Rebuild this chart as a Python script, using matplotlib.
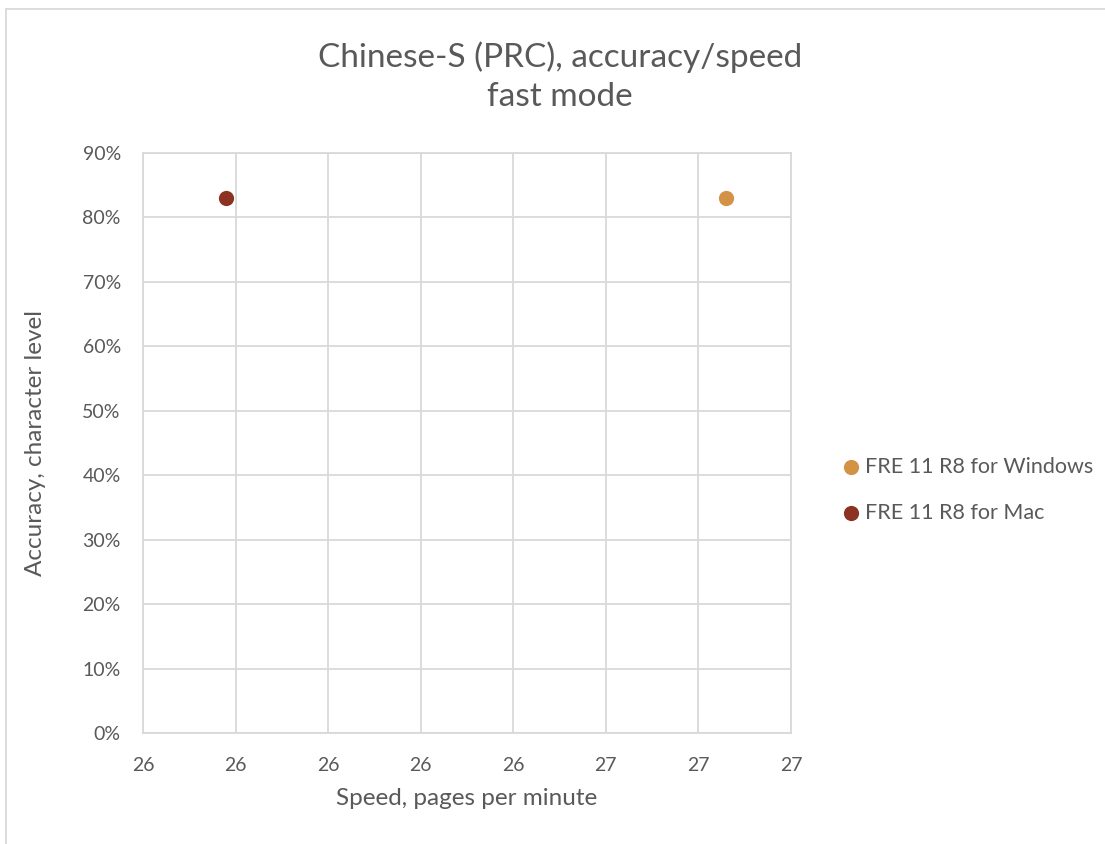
import matplotlib.pyplot as plt
from matplotlib.ticker import FuncFormatter, MultipleLocator
import numpy as np

plt.rcParams['font.family'] = ['Lato', 'DejaVu Sans']

series = ['FRE 11 R8 for Windows', 'FRE 11 R8 for Mac']
speed = [26.86, 25.78]       # pages per minute
accuracy = [0.83, 0.83]      # character level
colors = ['#D39245', '#8B3222']

text_col = '#595959'
grid_col = '#D9D9D9'

fig = plt.figure(figsize=(11.05, 8.44), dpi=100)
ax = fig.add_axes([0.1294, 0.1315, 0.5864, 0.6872])

for name, x, y, c in zip(series, speed, accuracy, colors):
    ax.scatter([x], [y], s=120, color=c, label=name, zorder=3, linewidths=0)

ax.set_xlim(25.6, 27.0)
ax.set_ylim(0, 0.9)
ax.xaxis.set_major_locator(MultipleLocator(0.2))
ax.yaxis.set_major_locator(MultipleLocator(0.1))
ax.xaxis.set_major_formatter(FuncFormatter(lambda v, p: '%d' % int(np.floor(v + 0.5 + 1e-9))))
ax.yaxis.set_major_formatter(FuncFormatter(lambda v, p: '%d%%' % round(v * 100)))

ax.grid(True, color=grid_col, linewidth=1.3)
ax.set_axisbelow(True)
for s in ax.spines.values():
    s.set_color(grid_col)
    s.set_linewidth(1.3)
ax.tick_params(length=0, labelsize=14, colors=text_col)
ax.tick_params(axis='x', pad=17)
ax.tick_params(axis='y', pad=16)

ax.set_xlabel('Speed, pages per minute', fontsize=17.5, color=text_col, labelpad=10)
ax.set_ylabel('Accuracy, character level', fontsize=17.5, color=text_col, labelpad=26)
fig.text(0.507, 0.909, 'Chinese-S (PRC), accuracy/speed\nfast mode', ha='center', va='center',
         fontsize=24, color=text_col, linespacing=1.4)

ax.legend(loc='upper left', bbox_to_anchor=(1.08, 0.476), frameon=False, fontsize=15.5,
          labelcolor=text_col, handlelength=0.8, handletextpad=0.25, labelspacing=1.2,
          markerscale=1.0, borderaxespad=0, borderpad=0)

fig.patches.append(plt.Rectangle((0.0054, -0.01), 1.0, 0.999, transform=fig.transFigure,
                                 fill=False, edgecolor=grid_col, linewidth=1.3))

fig.savefig('out.png', dpi=100)
